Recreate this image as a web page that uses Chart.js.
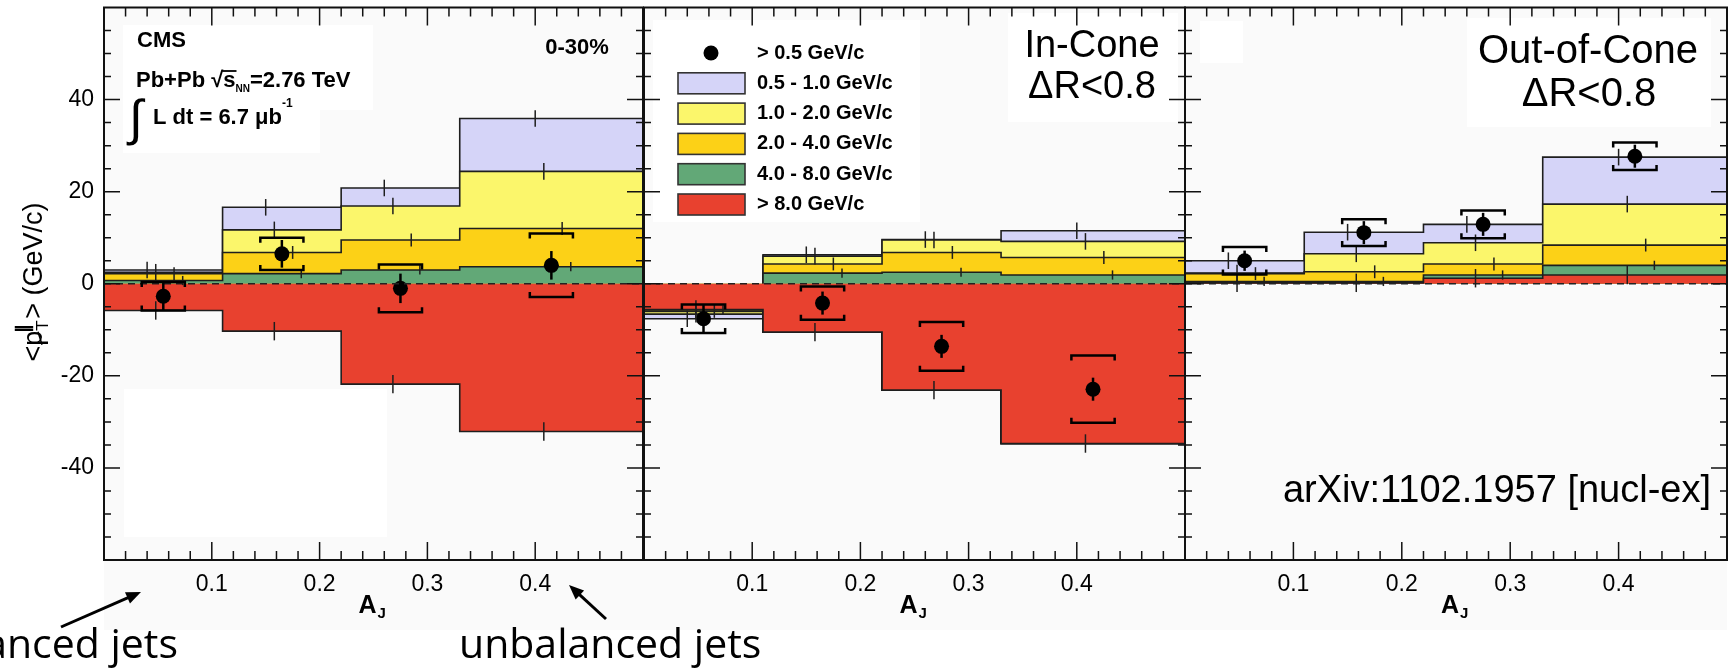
<!DOCTYPE html>
<html>
<head>
<meta charset="utf-8">
<title>CMS missing pT parallel vs AJ</title>
<script src="https://cdn.jsdelivr.net/npm/chart.js@4.4.1/dist/chart.umd.min.js"></script>
<style>
  body { margin: 0; background: #fff; }
  #fig { position: relative; width: 1735px; height: 670px; overflow: hidden; }
  #fig canvas { position: absolute; left: 0; top: 0; }
</style>
</head>
<body>
<div id="fig">
  <canvas id="pTotal" width="1735" height="670"></canvas>
  <canvas id="pIn" width="1735" height="670"></canvas>
  <canvas id="pOut" width="1735" height="670"></canvas>
</div>
<script>
// A_J binning
var binEdges = [0, 0.11, 0.22, 0.33, 0.5];
var pointX = [0.055, 0.165, 0.275, 0.415];

// pT classes, drawn from the bottom of the stack up
var classLabels = ["> 8.0 GeV/c", "4.0 - 8.0 GeV/c", "2.0 - 4.0 GeV/c", "1.0 - 2.0 GeV/c", "0.5 - 1.0 GeV/c"];
var classColors = ["#e8412f", "#62a877", "#fcd117", "#fbf66b", "#d5d4f8"];
var classShift = [-0.007, 0.018, 0.01, -0.007, -0.015]; // where the small stat bars sit in a bin
var classErr = [2.0, 1.0, 1.4, 1.8, 1.8];
var pointLabel = "> 0.5 GeV/c";

// 0-30%, all tracks
var totRed = [-5.8, -10.3, -21.8, -32.1];
var totGreen = [0.7, 2.2, 3.0, 3.7];
var totOrange = [1.5, 4.6, 6.5, 8.3];
var totYellow = [0.3, 4.9, 7.4, 12.4];
var totLavender = [0.5, 4.9, 3.9, 11.5];
var totPoint = [-2.7, 6.5, -1.0, 4.0];
var totStat = [3.2, 3.0, 3.2, 3.1];
var totSys = [3.1, 3.5, 5.2, 6.9];

// in-cone
var inRed = [-5.6, -10.5, -23.1, -34.7];
var inGreen = [-0.1, 2.3, 2.5, 1.9];
var inOrange = [-0.3, 2.0, 4.3, 3.8];
var inYellow = [-0.6, 1.7, 2.7, 3.5];
var inLavender = [-1.0, 0.3, 0.1, 2.3];
var inPoint = [-7.6, -4.2, -13.6, -22.9];
var inStat = [3.1, 2.5, 2.5, 2.5];
var inSys = [3.1, 3.6, 5.3, 7.3];

// out-of-cone
var outRed = [0.2, 0.2, 1.2, 1.9];
var outGreen = [0.3, 0.3, 0.7, 2.1];
var outOrange = [1.7, 2.1, 2.4, 4.4];
var outYellow = [0.1, 3.9, 4.6, 8.9];
var outLavender = [2.7, 4.7, 4.0, 10.2];
var outPoint = [5.0, 11.1, 12.9, 27.7];
var outStat = [2.2, 2.5, 2.5, 2.5];
var outSys = [3.0, 2.9, 3.0, 3.0];

var FONT = '"Liberation Sans", Arial, Helvetica, sans-serif';
var LINE = "#1e1e1e";
var PLOT_TOP = 7, PLOT_BOTTOM = 560;

// step outline of one stack boundary
function stepSet(vals, color) {
  var pts = [];
  for (var i = 0; i < vals.length; i++) {
    pts.push({ x: binEdges[i], y: vals[i] });
    pts.push({ x: binEdges[i + 1], y: vals[i] });
  }
  return {
    data: pts,
    backgroundColor: color,
    borderColor: LINE,
    borderWidth: 1.6,
    pointRadius: 0,
    fill: "origin",
    segment: {
      borderColor: function (c) { return (c.p0.parsed.y === 0 && c.p1.parsed.y === 0) ? "rgba(0,0,0,0)" : LINE; }
    }
  };
}

// positive and negative parts stacked separately
function buildStack(p) {
  var pos = [0, 0, 0, 0], neg = [0, 0, 0, 0];
  var sets = [];
  p.tops = [];
  p.comps.forEach(function (c, k) {
    var hasPos = false, hasNeg = false, top = [];
    c.forEach(function (v, i) {
      if (v >= 0) { pos[i] += v; hasPos = true; top.push(pos[i]); }
      else { neg[i] += v; hasNeg = true; top.push(neg[i]); }
    });
    p.tops.push(top);
    if (hasPos) sets.push(stepSet(pos.slice(), classColors[k]));
    if (hasNeg) sets.push(stepSet(neg.slice(), classColors[k]));
  });
  return sets;
}

function text(ctx, s, x, y, font, align) {
  ctx.font = font;
  ctx.textAlign = align || "left";
  ctx.textBaseline = "middle";
  ctx.fillStyle = "#000";
  ctx.fillText(s, x, y);
  return ctx.measureText(s).width;
}

function arrow(ctx, x0, y0, x1, y1) {
  var a = Math.atan2(y1 - y0, x1 - x0), h = 16;
  ctx.strokeStyle = "#000"; ctx.fillStyle = "#000"; ctx.lineWidth = 3;
  ctx.beginPath(); ctx.moveTo(x0, y0);
  ctx.lineTo(x1 - Math.cos(a) * h * 0.8, y1 - Math.sin(a) * h * 0.8); ctx.stroke();
  ctx.beginPath(); ctx.moveTo(x1, y1);
  ctx.lineTo(x1 - h * Math.cos(a - 0.4), y1 - h * Math.sin(a - 0.4));
  ctx.lineTo(x1 - h * Math.cos(a + 0.4), y1 - h * Math.sin(a + 0.4));
  ctx.closePath(); ctx.fill();
}

var panels = [
  {
    id: "pTotal", left: 104, right: 643, showY: true,
    comps: [totRed, totGreen, totOrange, totYellow, totLavender],
    pts: totPoint, stat: totStat, sys: totSys,
    boxes: [[123, 25, 250, 85], [123, 25, 197, 128], [124, 389, 263, 148]],
    extra: function (ctx) {
      var f = "bold 22px " + FONT;
      text(ctx, "CMS", 137, 41, f);
      var x = 136;
      x += text(ctx, "Pb+Pb ", x, 81, f);
      var wr = text(ctx, "\u221A", x, 81, f);
      var ws = text(ctx, "s", x + wr, 81, f);
      ctx.strokeStyle = "#000"; ctx.lineWidth = 1.8;
      ctx.beginPath(); ctx.moveTo(x + wr - 1, 71); ctx.lineTo(x + wr + ws + 1, 71); ctx.stroke();
      x += wr + ws;
      x += text(ctx, "NN", x, 89, "bold 10px " + FONT);
      text(ctx, "=2.76 TeV", x, 81, f);
      text(ctx, "\u222B", 129, 121, "50px " + FONT);
      var wl = text(ctx, "L dt = 6.7 \u03BCb", 153, 118, f);
      text(ctx, "-1", 153 + wl, 104, "bold 12px " + FONT);
      text(ctx, "0-30%", 577, 48, "bold 22px " + FONT, "center");
    }
  },
  {
    id: "pIn", left: 644, right: 1185, showY: false,
    comps: [inRed, inGreen, inOrange, inYellow, inLavender],
    pts: inPoint, stat: inStat, sys: inSys,
    boxes: [[653, 20, 267, 202], [1008, 13, 170, 109]],
    extra: function (ctx) {
      var f = "bold 20px " + FONT;
      var y0 = 53, dy = 30.3;
      ctx.fillStyle = "#000";
      ctx.beginPath(); ctx.arc(711, y0, 7.5, 0, Math.PI * 2); ctx.fill();
      text(ctx, pointLabel, 757, y0, f);
      for (var r = 1; r <= 5; r++) {
        var k = 5 - r, y = y0 + dy * r;
        ctx.fillStyle = classColors[k];
        ctx.fillRect(678, y - 10.5, 67, 21);
        ctx.strokeStyle = "#333"; ctx.lineWidth = 1.6;
        ctx.strokeRect(678, y - 10.5, 67, 21);
        text(ctx, classLabels[k], 757, y, f);
      }
      text(ctx, "In-Cone", 1092, 47, "38px " + FONT, "center");
      text(ctx, "\u0394R<0.8", 1092, 88, "38px " + FONT, "center");
    }
  },
  {
    id: "pOut", left: 1185, right: 1727, showY: false,
    comps: [outRed, outGreen, outOrange, outYellow, outLavender],
    pts: outPoint, stat: outStat, sys: outSys,
    boxes: [[1467, 18, 244, 109], [1200, 21, 43, 42]],
    extra: function (ctx) {
      text(ctx, "Out-of-Cone", 1588, 52, "40px " + FONT, "center");
      text(ctx, "\u0394R<0.8", 1589, 95, "40px " + FONT, "center");
      text(ctx, "arXiv:1102.1957 [nucl-ex]", 1711, 492, "38px " + FONT, "right");
    }
  }
];

function panelPlugin(p) {
  return {
    id: "panel_" + p.id,
    beforeDraw: function (chart) {
      if (p.id !== "pTotal") return;
      var ctx = chart.ctx;
      ctx.save();
      ctx.fillStyle = "#ffffff"; ctx.fillRect(0, 0, 1735, 670);
      ctx.fillStyle = "#fafafa"; ctx.fillRect(104, PLOT_TOP, 1623, 630 - PLOT_TOP);
      ctx.restore();
    },
    beforeDatasetsDraw: function (chart) {
      var ctx = chart.ctx;
      ctx.save();
      ctx.fillStyle = "#ffffff";
      p.boxes.forEach(function (b) { ctx.fillRect(b[0], b[1], b[2], b[3]); });
      ctx.restore();
    },
    afterDatasetsDraw: function (chart) {
      var ctx = chart.ctx, xs = chart.scales.x, ys = chart.scales.y, a = chart.chartArea;
      ctx.save();
      // dashed zero line
      ctx.strokeStyle = "#222"; ctx.lineWidth = 1.6; ctx.setLineDash([7, 5]);
      ctx.beginPath(); ctx.moveTo(a.left, ys.getPixelForValue(0)); ctx.lineTo(a.right, ys.getPixelForValue(0)); ctx.stroke();
      ctx.setLineDash([]);
      // stat bars of each pT class
      ctx.strokeStyle = LINE; ctx.lineWidth = 1.5;
      p.tops.forEach(function (top, k) {
        top.forEach(function (v, i) {
          if (p.comps[k][i] === 0) return;
          var px = xs.getPixelForValue(pointX[i] + classShift[k]);
          ctx.beginPath();
          ctx.moveTo(px, ys.getPixelForValue(v - classErr[k]));
          ctx.lineTo(px, ys.getPixelForValue(v + classErr[k]));
          ctx.stroke();
        });
      });
      // error bars and systematic brackets of the > 0.5 GeV/c points
      ctx.strokeStyle = "#000"; ctx.lineWidth = 2.5;
      p.pts.forEach(function (v, i) {
        var px = xs.getPixelForValue(pointX[i]);
        ctx.beginPath();
        ctx.moveTo(px, ys.getPixelForValue(v - p.stat[i]));
        ctx.lineTo(px, ys.getPixelForValue(v + p.stat[i]));
        ctx.stroke();
        var xl = xs.getPixelForValue(pointX[i] - 0.02), xr = xs.getPixelForValue(pointX[i] + 0.02);
        [1, -1].forEach(function (s) {
          var yy = ys.getPixelForValue(v + s * p.sys[i]);
          ctx.beginPath();
          ctx.moveTo(xl, yy + s * 5); ctx.lineTo(xl, yy); ctx.lineTo(xr, yy); ctx.lineTo(xr, yy + s * 5);
          ctx.stroke();
        });
      });
      // frame and inward ticks
      ctx.strokeStyle = "#111"; ctx.lineWidth = 2;
      ctx.strokeRect(a.left, a.top, a.right - a.left, a.bottom - a.top);
      ctx.lineWidth = 1.5;
      ctx.beginPath();
      for (var k = 1; k < 25; k++) {
        var tx = xs.getPixelForValue(k * 0.02), tl = (k % 5 === 0) ? 18 : 9;
        ctx.moveTo(tx, a.bottom); ctx.lineTo(tx, a.bottom - tl);
        ctx.moveTo(tx, a.top); ctx.lineTo(tx, a.top + tl);
      }
      for (var j = -11; j <= 11; j++) {
        var ty = ys.getPixelForValue(j * 5), yl = (j % 4 === 0) ? 16 : 7;
        ctx.moveTo(a.left, ty); ctx.lineTo(a.left + yl, ty);
        ctx.moveTo(a.right, ty); ctx.lineTo(a.right - yl, ty);
      }
      ctx.stroke();
      // axis title A_J
      var cx = (a.left + a.right) / 2;
      var wa = text(ctx, "A", cx - 6, 606, "bold 25px " + FONT, "center");
      text(ctx, "J", cx - 6 + wa / 2 + 1, 614, "bold 15px " + FONT, "left");
      p.extra(ctx);
      ctx.restore();
    },
    afterDraw: function (chart) {
      if (p.id !== "pTotal") return;
      var ctx = chart.ctx;
      ctx.save();
      // y axis title, rotated
      ctx.translate(35, 282);
      ctx.rotate(-Math.PI / 2);
      var f = "27px " + FONT;
      ctx.font = f;
      var widths = [ctx.measureText("<").width, ctx.measureText("p").width, 12, ctx.measureText("> (GeV/c)").width];
      var x = -(widths[0] + widths[1] + widths[2] + widths[3]) / 2;
      text(ctx, "<", x, 0, f); x += widths[0];
      text(ctx, "p", x, 0, f);
      ctx.strokeStyle = "#000"; ctx.lineWidth = 1.5;
      ctx.beginPath(); ctx.moveTo(x + 1, 7); ctx.lineTo(x + widths[1] - 1, 3); ctx.stroke();
      x += widths[1];
      text(ctx, "T", x, 8, "17px " + FONT);
      text(ctx, "\u2225", x - 2, -11, "bold 18px " + FONT);
      x += widths[2];
      text(ctx, "> (GeV/c)", x, 0, f);
      ctx.restore();

      // balanced / unbalanced annotations
      ctx.save();
      ctx.font = '41px "Open Sans", "DejaVu Sans", sans-serif';
      ctx.fillStyle = "#000"; ctx.textBaseline = "alphabetic";
      ctx.textAlign = "right"; ctx.fillText("balanced jets", 178, 658);
      ctx.textAlign = "left"; ctx.fillText("unbalanced jets", 459, 658);
      arrow(ctx, 61, 627, 141, 592);
      arrow(ctx, 606, 619, 569, 585);
      ctx.restore();
    }
  };
}

panels.forEach(function (p) {
  var sets = buildStack(p);
  var points = {
    data: p.pts.map(function (v, i) { return { x: pointX[i], y: v }; }),
    showLine: false,
    pointRadius: 7.5,
    pointBackgroundColor: "#000",
    pointBorderWidth: 0,
    borderColor: "#000",
    fill: false
  };
  new Chart(document.getElementById(p.id), {
    type: "line",
    data: { datasets: [points].concat(sets) },
    options: {
      responsive: false,
      animation: false,
      events: [],
      layout: { padding: { left: p.showY ? 0 : p.left, right: 1735 - p.right, top: PLOT_TOP, bottom: 30 } },
      plugins: { legend: { display: false }, tooltip: { enabled: false } },
      scales: {
        x: {
          type: "linear", min: 0, max: 0.5,
          afterFit: function (s) { s.height = 80; s.paddingLeft = 0; s.paddingRight = 0; },
          afterBuildTicks: function (s) { s.ticks = s.ticks.filter(function (t) { return t.value > 0.05 && t.value < 0.45; }); },
          ticks: {
            stepSize: 0.1, autoSkip: false, maxRotation: 0, padding: 11, color: "#000",
            font: { family: FONT, size: 23 },
            callback: function (v) { return v.toFixed(1); }
          },
          grid: { display: false, drawTicks: false },
          border: { display: false }
        },
        y: {
          display: p.showY, min: -60, max: 60,
          afterFit: function (s) { s.width = p.showY ? p.left : 0; s.paddingTop = 0; s.paddingBottom = 0; },
          afterBuildTicks: function (s) { s.ticks = s.ticks.filter(function (t) { return Math.abs(t.value) < 50; }); },
          ticks: {
            stepSize: 20, padding: 10, color: "#000",
            font: { family: FONT, size: 23 }
          },
          grid: { display: false, drawTicks: false },
          border: { display: false }
        }
      }
    },
    plugins: [panelPlugin(p)]
  });
});
</script>
</body>
</html>
